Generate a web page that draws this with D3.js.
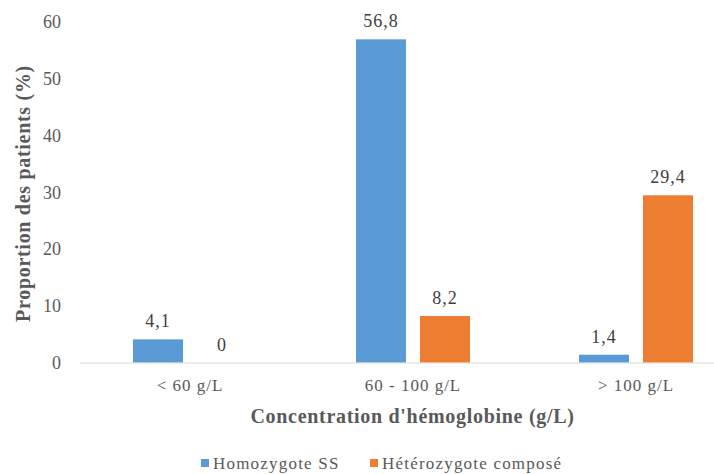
<!DOCTYPE html>
<html>
<head>
<meta charset="utf-8">
<script src="https://cdn.jsdelivr.net/npm/d3@7"></script>
<style>
  html, body { margin: 0; padding: 0; background: #fff; }
  svg { display: block; }
  svg text { font-family: "Liberation Serif", "Tinos", "Noto Serif", "Nimbus Roman", "FreeSerif", "DejaVu Serif", "Times New Roman", Times, serif !important; }
</style>
</head>
<body>
<svg id="chart" width="714" height="474"></svg>
<script>
// Hemoglobin concentration groups and patient proportions (%) per genotype
const categories = ["< 60 g/L", "60 - 100 g/L", "> 100 g/L"];
const seriesNames = ["Homozygote SS", "Hétérozygote composé"];
const homozygoteSS = [4.1, 56.8, 1.4];
const heterozygoteCompose = [0, 8.2, 29.4];
const yTicks = [0, 10, 20, 30, 40, 50, 60];
const colors = ["#5B9BD5", "#ED7D31"];

const seriesValues = [homozygoteSS, heterozygoteCompose];
const fmt = v => String(v).replace(".", ",");

const svg = d3.select("#chart");

const x0 = d3.scaleBand().domain(categories).range([78.5, 747.5]).padding(0);
const groupHalf = 57;
const x1 = d3.scaleBand().domain(seriesNames)
  .range([x0.bandwidth() / 2 - groupHalf, x0.bandwidth() / 2 + groupHalf])
  .paddingInner(14 / 64).paddingOuter(0);
const y = d3.scaleLinear().domain([0, 60]).range([362.7, 21.1]);

// Y tick labels (no axis line)
const yAxis = d3.axisLeft(y).tickValues(yTicks).tickSize(0).tickPadding(0);
const gy = svg.append("g").attr("transform", "translate(61,0)").call(yAxis);
gy.select(".domain").remove();
gy.selectAll("text")
  .attr("font-size", 18)
  .attr("fill", "#595959")
  .attr("dy", "0.34em");

// Bars
const groups = svg.append("g").selectAll("g")
  .data(categories)
  .join("g")
  .attr("transform", d => `translate(${x0(d)},0)`);

groups.selectAll("rect")
  .data((c, i) => seriesNames.map((s, k) => ({ s, k, v: seriesValues[k][i] })))
  .join("rect")
  .attr("x", d => x1(d.s))
  .attr("width", x1.bandwidth())
  .attr("y", d => y(d.v))
  .attr("height", d => y(0) - y(d.v))
  .attr("fill", d => colors[d.k]);

// Value labels above bars
groups.selectAll("text.val")
  .data((c, i) => seriesNames.map((s, k) => ({ s, k, v: seriesValues[k][i] })))
  .join("text")
  .attr("class", "val")
  .attr("x", d => x1(d.s) + x1.bandwidth() / 2)
  .attr("y", d => y(d.v) - 12)
  .attr("text-anchor", "middle")
  .attr("font-size", 18)
  .attr("letter-spacing", 1)
  .attr("fill", "#404040")
  .text(d => fmt(d.v));

// X axis line and category labels
const xAxis = d3.axisBottom(x0).tickSize(0).tickPadding(0);
const gx = svg.append("g").attr("transform", `translate(0,${y(0)})`).call(xAxis);
gx.select(".domain").remove();
gx.append("line")
  .attr("x1", 80).attr("x2", 714)
  .attr("y1", 0.3).attr("y2", 0.3)
  .attr("stroke", "#D9D9D9").attr("stroke-width", 1);
gx.selectAll(".tick text")
  .attr("font-size", 17)
  .attr("letter-spacing", 1)
  .attr("fill", "#595959")
  .attr("y", 28)
  .attr("dy", 0);

// Axis titles
svg.append("text")
  .attr("x", 412.5).attr("y", 423)
  .attr("text-anchor", "middle")
  .attr("font-size", 20)
  .attr("font-weight", "bold")
  .attr("letter-spacing", 0.7)
  .attr("fill", "#595959")
  .text("Concentration d'hémoglobine (g/L)");

svg.append("text")
  .attr("transform", "translate(30,193.5) rotate(-90)")
  .attr("text-anchor", "middle")
  .attr("font-size", 20)
  .attr("font-weight", "bold")
  .attr("letter-spacing", 0.7)
  .attr("fill", "#595959")
  .text("Proportion des patients (%)");

// Legend
const legendX = [201, 370];
const legend = svg.append("g").selectAll("g")
  .data(seriesNames)
  .join("g")
  .attr("transform", (d, i) => `translate(${legendX[i]},0)`);
legend.append("rect")
  .attr("x", 0).attr("y", 459)
  .attr("width", 8).attr("height", 8)
  .attr("fill", (d, i) => colors[i]);
legend.append("text")
  .attr("x", 12).attr("y", 468.5)
  .attr("font-size", 17)
  .attr("letter-spacing", 1.2)
  .attr("fill", "#595959")
  .text(d => d);
</script>
</body>
</html>
